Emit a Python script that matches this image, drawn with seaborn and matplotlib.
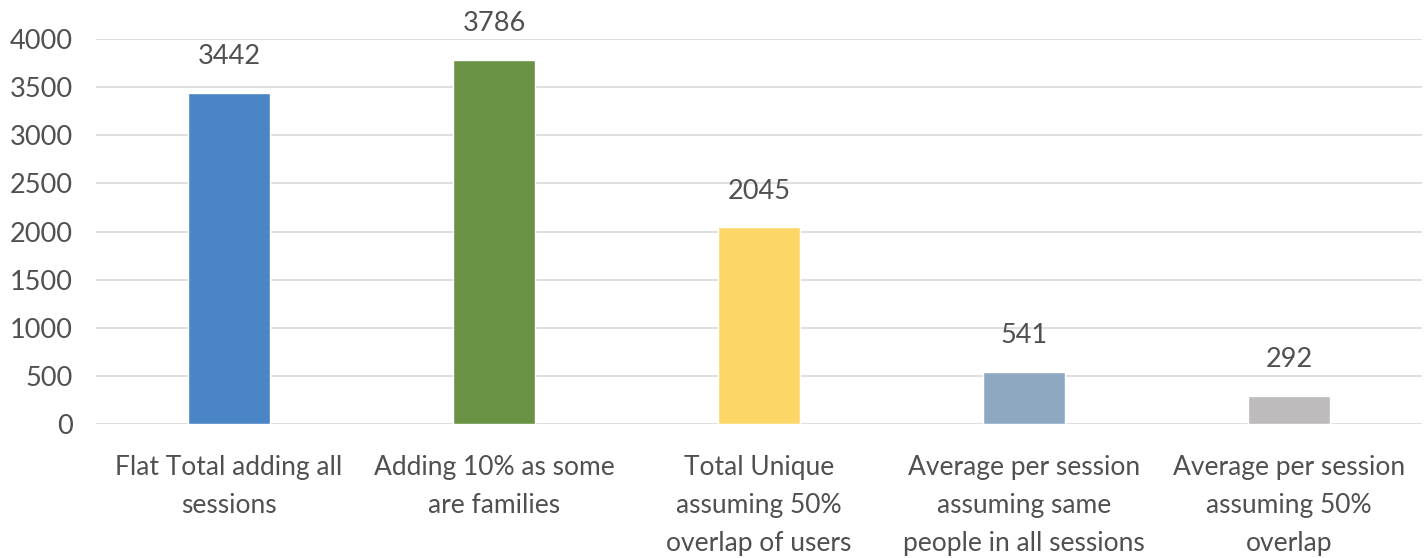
import matplotlib
matplotlib.use("Agg")
import matplotlib.pyplot as plt
import seaborn as sns
import pandas as pd

categories = ["Flat Total adding all\nsessions",
              "Adding 10% as some\nare families",
              "Total Unique\nassuming 50%\noverlap of users",
              "Average per session\nassuming same\npeople in all sessions",
              "Average per session\nassuming 50%\noverlap"]
values = [3442, 3786, 2045, 541, 292]
colors = ["#4A86C5", "#6A9244", "#FCD667", "#8EA8C2", "#BDBBBB"]
yticks = [0, 500, 1000, 1500, 2000, 2500, 3000, 3500, 4000]

sns.set_theme(style="white")
plt.rcParams['font.family'] = ['Lato', 'DejaVu Sans']
text_color = "#505050"

df = pd.DataFrame({"cat": categories, "val": values})
fig = plt.figure(figsize=(14.27, 5.58), dpi=100)
ax = fig.add_axes([0.0676, 0.240, 0.9286, 0.690])
sns.barplot(data=df, x="cat", y="val", hue="cat", palette=colors, legend=False,
            width=0.31, ax=ax, saturation=1)
ax.set_ylim(0, 4000)
ax.set_xlim(-0.5, 4.5)
ax.set_yticks(yticks)
ax.yaxis.grid(True, color="#D9D9D9", linewidth=1.2)
ax.set_axisbelow(True)
for s in ax.spines.values():
    s.set_visible(False)
ax.set_xlabel("")
ax.set_ylabel("")
ax.tick_params(axis="y", labelsize=19.5, colors=text_color, length=0, pad=17)
ax.tick_params(axis="x", labelsize=19, colors=text_color, length=0, pad=22)
for lbl in ax.get_xticklabels():
    lbl.set_linespacing(1.65)
for i, v in enumerate(values):
    ax.annotate(str(v), (i, v), xytext=(0, 17), textcoords="offset points",
                ha="center", va="bottom", fontsize=19.5, color=text_color)
fig.savefig("out.png", dpi=100)
